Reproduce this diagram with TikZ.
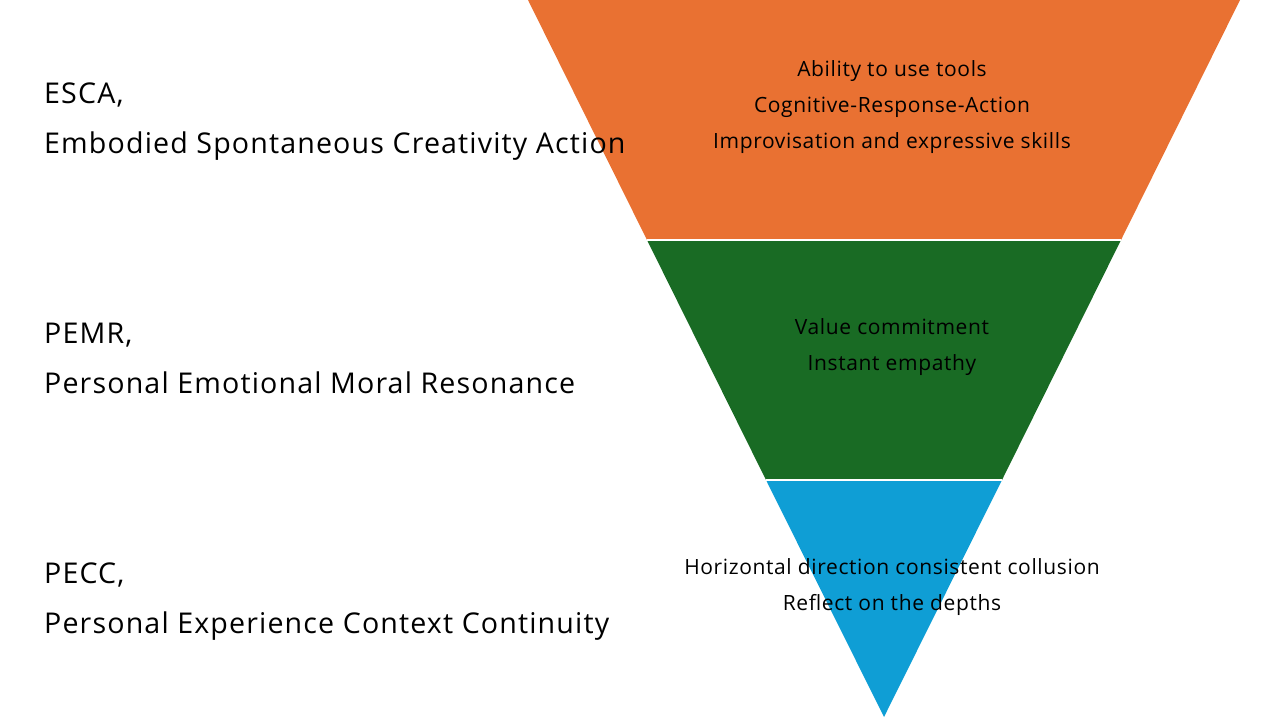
\documentclass[tikz,border=0pt]{standalone}
\usepackage{fontspec}
\setmainfont{Open Sans}
\newfontfamily\namefont{Open Sans}[LetterSpace=4]
\newfontfamily\itemfont{Open Sans}[LetterSpace=3]
\usepackage{tikz}
\usetikzlibrary{positioning}

\definecolor{escaorange}{HTML}{E97132}
\definecolor{pemrgreen}{HTML}{196B24}
\definecolor{peccblue}{HTML}{0F9ED5}

\tikzset{
  levelname/.style={anchor=base west, inner sep=0pt, font=\namefont\fontsize{28.6}{32}\selectfont},
  leveltext/.style={anchor=base, inner sep=0pt, font=\itemfont\fontsize{21}{24}\selectfont},
  gapline/.style={white, line width=2pt}
}

\begin{document}
\begin{tikzpicture}[x=1pt, y=-1pt]
\useasboundingbox (0,0) rectangle (1280,720);
%\draw (0,0) grid (1280,720);

% corners of the funnel
\coordinate (tl) at (528,0);  \coordinate (tr) at (1240,0);
\coordinate (ml) at (647,240); \coordinate (mr) at (1121,240);
\coordinate (bl) at (766,480); \coordinate (br) at (1002,480);
\coordinate (apex) at (884,717);

\fill [escaorange] (tl) -- (tr) -- (mr) -- (ml) -- cycle;
\fill [pemrgreen] (ml) -- (mr) -- (br) -- (bl) -- cycle;
\fill [peccblue] (bl) -- (br) -- (apex) -- cycle;
\draw [gapline] (ml) -- (mr);
\draw [gapline] (bl) -- (br);

\node [levelname] (esca) at (44,103) {ESCA,};
\node [levelname] (escafull) at (44,153) {Embodied Spontaneous Creativity Action};
\node [levelname] (pemr) at (44,343) {PEMR,};
\node [levelname] (pemrfull) at (44,393) {Personal Emotional Moral Resonance};
\node [levelname] (pecc) at (44,583) {PECC,};
\node [levelname] (peccfull) at (44,633) {Personal Experience Context Continuity};

\node [leveltext] (tools) at (892,76) {Ability to use tools};
\node [leveltext] (cra) at (892,112) {Cognitive-Response-Action};
\node [leveltext] (improv) at (892,148) {Improvisation and expressive skills};

\node [leveltext] (value) at (892,334) {Value commitment};
\node [leveltext] (empathy) at (892,370) {Instant empathy};

\node [leveltext] (horiz) at (892,574) {Horizontal direction consistent collusion};
\node [leveltext] (depths) at (892,610) {Reflect on the depths};

\end{tikzpicture}
\end{document}
